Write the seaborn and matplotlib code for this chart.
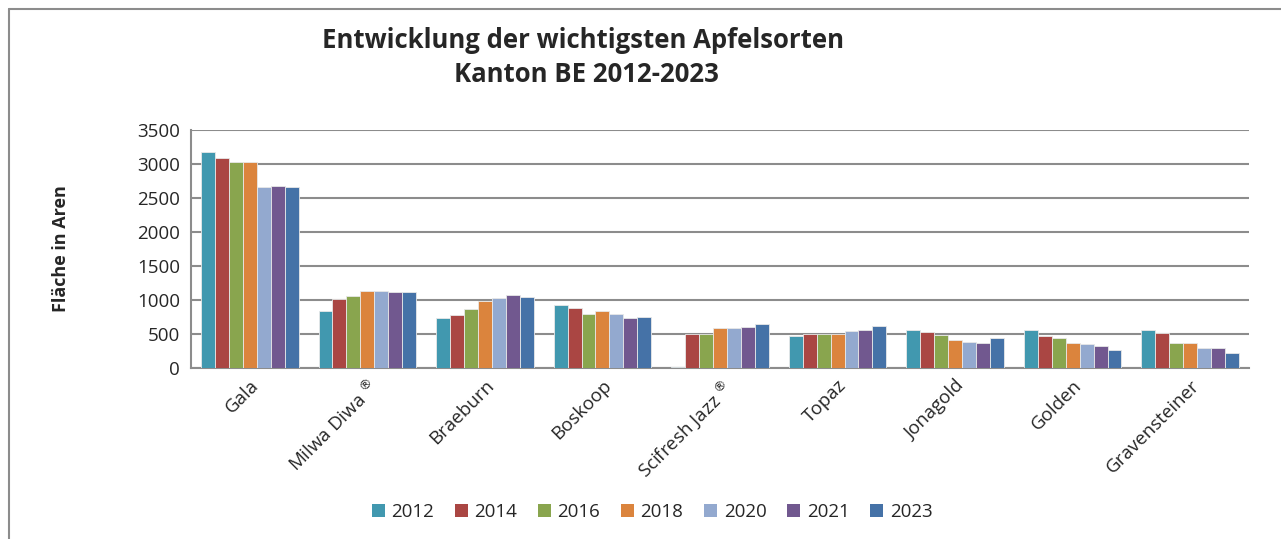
import matplotlib
matplotlib.use("Agg")
import matplotlib.pyplot as plt
import seaborn as sns
import pandas as pd
from matplotlib.patches import Rectangle
from matplotlib.lines import Line2D

sorten = ["Gala", "Milwa Diwa $^{®}$", "Braeburn", "Boskoop", "Scifresh Jazz $^{®}$",
          "Topaz", "Jonagold", "Golden", "Gravensteiner"]
jahre = ["2012", "2014", "2016", "2018", "2020", "2021", "2023"]
v2012 = [3175, 845, 735, 928, 20, 470, 555, 565, 557]
v2014 = [3090, 1015, 785, 878, 505, 505, 535, 465, 517]
v2016 = [3025, 1065, 862, 795, 505, 505, 487, 440, 370]
v2018 = [3030, 1135, 990, 840, 595, 505, 415, 370, 375]
v2020 = [2668, 1135, 1030, 798, 595, 540, 385, 360, 290]
v2021 = [2678, 1115, 1068, 730, 600, 555, 375, 320, 290]
v2023 = [2658, 1115, 1045, 752, 640, 612, 445, 268, 222]
farben = ["#4198AF", "#AA4643", "#89A54E", "#DB843D", "#93A9CF", "#71588F", "#4572A7"]

rows = []
for jahr, vals in zip(jahre, [v2012, v2014, v2016, v2018, v2020, v2021, v2023]):
    for s, v in zip(sorten, vals):
        rows.append({"Sorte": s, "Jahr": jahr, "Wert": v})
df = pd.DataFrame(rows)

sns.set_theme(style="white")
plt.rcParams["font.family"] = ["Open Sans", "DejaVu Sans"]

fig = plt.figure(figsize=(12.81, 5.39), dpi=100)
ax = fig.add_axes([191/1281, 1 - 368/539, (1249-191)/1281, (368-130)/539])

sns.barplot(data=df, x="Sorte", y="Wert", hue="Jahr", palette=farben, width=0.83,
            saturation=1, edgecolor="#e8e8e8", linewidth=0.6, ax=ax, legend=False,
            zorder=3)

ax.set_ylim(0, 3500)
ax.set_yticks(range(0, 3501, 500))
ax.yaxis.grid(True, color="#8c8c8c", linewidth=1.5, zorder=0)
ax.set_axisbelow(True)
for s in ["top", "right"]:
    ax.spines[s].set_visible(False)
for s in ["left", "bottom"]:
    ax.spines[s].set_color("#8c8c8c")
    ax.spines[s].set_linewidth(1.5)
ax.tick_params(axis="y", labelsize=13.5, pad=8, length=0)
ax.tick_params(axis="x", labelsize=13.5, length=0, pad=6)
plt.setp(ax.get_xticklabels(), rotation=45, ha="right", rotation_mode="anchor")
ax.set_xlabel("")
ax.set_ylabel("Fläche in Aren", fontsize=13, fontweight="bold", labelpad=48)

fig.text(583/1281, 1 - 40/539, "Entwicklung der wichtigsten Apfelsorten",
         ha="center", va="center", fontsize=18.5, fontweight="bold")
fig.text(586/1281, 1 - 75/539, "Kanton BE 2012-2023",
         ha="center", va="center", fontsize=18.5, fontweight="bold")

handles = [Rectangle((0, 0), 1, 1, facecolor=c, edgecolor="none") for c in farben]
fig.legend(handles, jahre, loc="center", bbox_to_anchor=(652/1281, 1 - 512/539),
           ncol=7, frameon=False, fontsize=13.5, handlelength=0.7, handleheight=0.7,
           handletextpad=0.35, columnspacing=1.1)

fig.add_artist(Line2D([9/1281, 9/1281], [0, 1 - 9/539], transform=fig.transFigure,
                      color="#8c8c8c", linewidth=1.5))
fig.add_artist(Line2D([9/1281, 1], [1 - 9/539, 1 - 9/539], transform=fig.transFigure,
                      color="#8c8c8c", linewidth=1.5))

fig.savefig("out.png", dpi=100)
